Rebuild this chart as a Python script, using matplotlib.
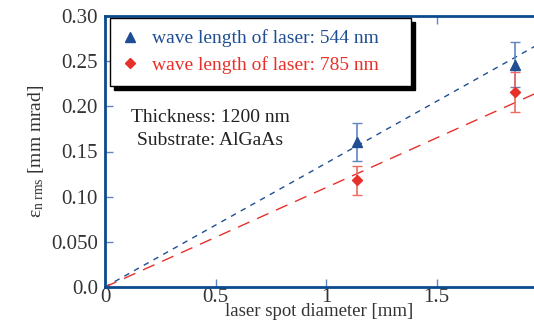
import matplotlib
matplotlib.use("Agg")
import matplotlib.pyplot as plt
import numpy as np

plt.rcParams['font.family'] = ['Liberation Serif', 'DejaVu Serif']
plt.rcParams['mathtext.fontset'] = 'custom'
plt.rcParams['mathtext.rm'] = 'Liberation Serif'
plt.rcParams['mathtext.it'] = 'Liberation Serif'

# data
x_pts = [1.14, 1.855]
blue_y = [0.161, 0.246]
blue_err = [0.021, 0.025]
red_y = [0.118, 0.216]
red_err = [0.016, 0.022]
blue_slope = 0.137
red_slope = 0.110
xticks = [0, 0.5, 1, 1.5]
xtick_labels = ["0", "0.5", "1", "1.5"]
yticks = [0.0, 0.05, 0.10, 0.15, 0.20, 0.25, 0.30]
ytick_labels = ["0.0", "0.050", "0.10", "0.15", "0.20", "0.25", "0.30"]

BLUE = '#1f4e94'
RED = '#e8302a'
SPINE = '#0b4a8c'
TXT = '#333333'

fig = plt.figure(figsize=(5.34, 3.21), dpi=100)
ax = fig.add_axes([105/534, 34/321, 1 - 105/534, (287-16)/321])
ax.set_xlim(0, 429/221)
ax.set_ylim(0, 0.30)

xl = np.array([0, 2.0])
ax.plot(xl, blue_slope*xl, color=BLUE, lw=1.0, dashes=(4, 4))
ax.plot(xl, red_slope*xl, color=RED, lw=1.0, dashes=(9, 6))

ax.errorbar(x_pts, blue_y, yerr=blue_err, fmt='none', ecolor='#5f86bf', elinewidth=1.2, capsize=3.5, capthick=1.0)
ax.errorbar(x_pts, red_y, yerr=red_err, fmt='none', ecolor='#ee6a63', elinewidth=1.2, capsize=3.5, capthick=1.0)
h1, = ax.plot(x_pts, blue_y, '^', color=BLUE, ms=7, ls='none', label='wave length of laser: 544 nm    ')
h2, = ax.plot(x_pts, red_y, 'D', color=RED, ms=5.5, ls='none', label='wave length of laser: 785 nm    ')

for s in ['left', 'bottom', 'top']:
    ax.spines[s].set_color(SPINE)
    ax.spines[s].set_linewidth(2.0)
ax.spines['right'].set_visible(False)

ax.set_xticks(xticks)
ax.set_xticklabels(xtick_labels)
ax.set_yticks(yticks)
ax.set_yticklabels(ytick_labels)
ax.tick_params(axis='both', direction='in', length=6, width=1.0, color='#5f86bf',
               labelsize=15, labelcolor=TXT, top=True)
ax.tick_params(axis='x', pad=1)
ax.tick_params(axis='y', pad=5)

ax.set_xlabel('laser spot diameter [mm]', fontsize=13.5, color=TXT, labelpad=-3)
ax.set_ylabel(r'$\varepsilon_{\mathrm{n\ rms}}$ [mm mrad]', fontsize=14, color=TXT, labelpad=4)

leg = ax.legend(handles=[h1, h2], loc='upper left', bbox_to_anchor=(0.011, 0.993),
                fontsize=14, frameon=True, fancybox=False, edgecolor='black',
                handlelength=0.9, handletextpad=0.7, borderpad=0.6, labelspacing=0.45,
                borderaxespad=0.0, shadow={'color': 'black', 'alpha': 1.0, 'ox': 3, 'oy': -3})
leg.get_frame().set_linewidth(1.0)
leg.get_texts()[0].set_color(BLUE)
leg.get_texts()[1].set_color(RED)

ax.text(0.245, 0.624, 'Thickness: 1200 nm', transform=ax.transAxes, fontsize=14, color='#222222', ha='center', va='center')
ax.text(0.245, 0.542, 'Substrate: AlGaAs', transform=ax.transAxes, fontsize=14, color='#222222', ha='center', va='center')

fig.savefig('out.png', dpi=100)
